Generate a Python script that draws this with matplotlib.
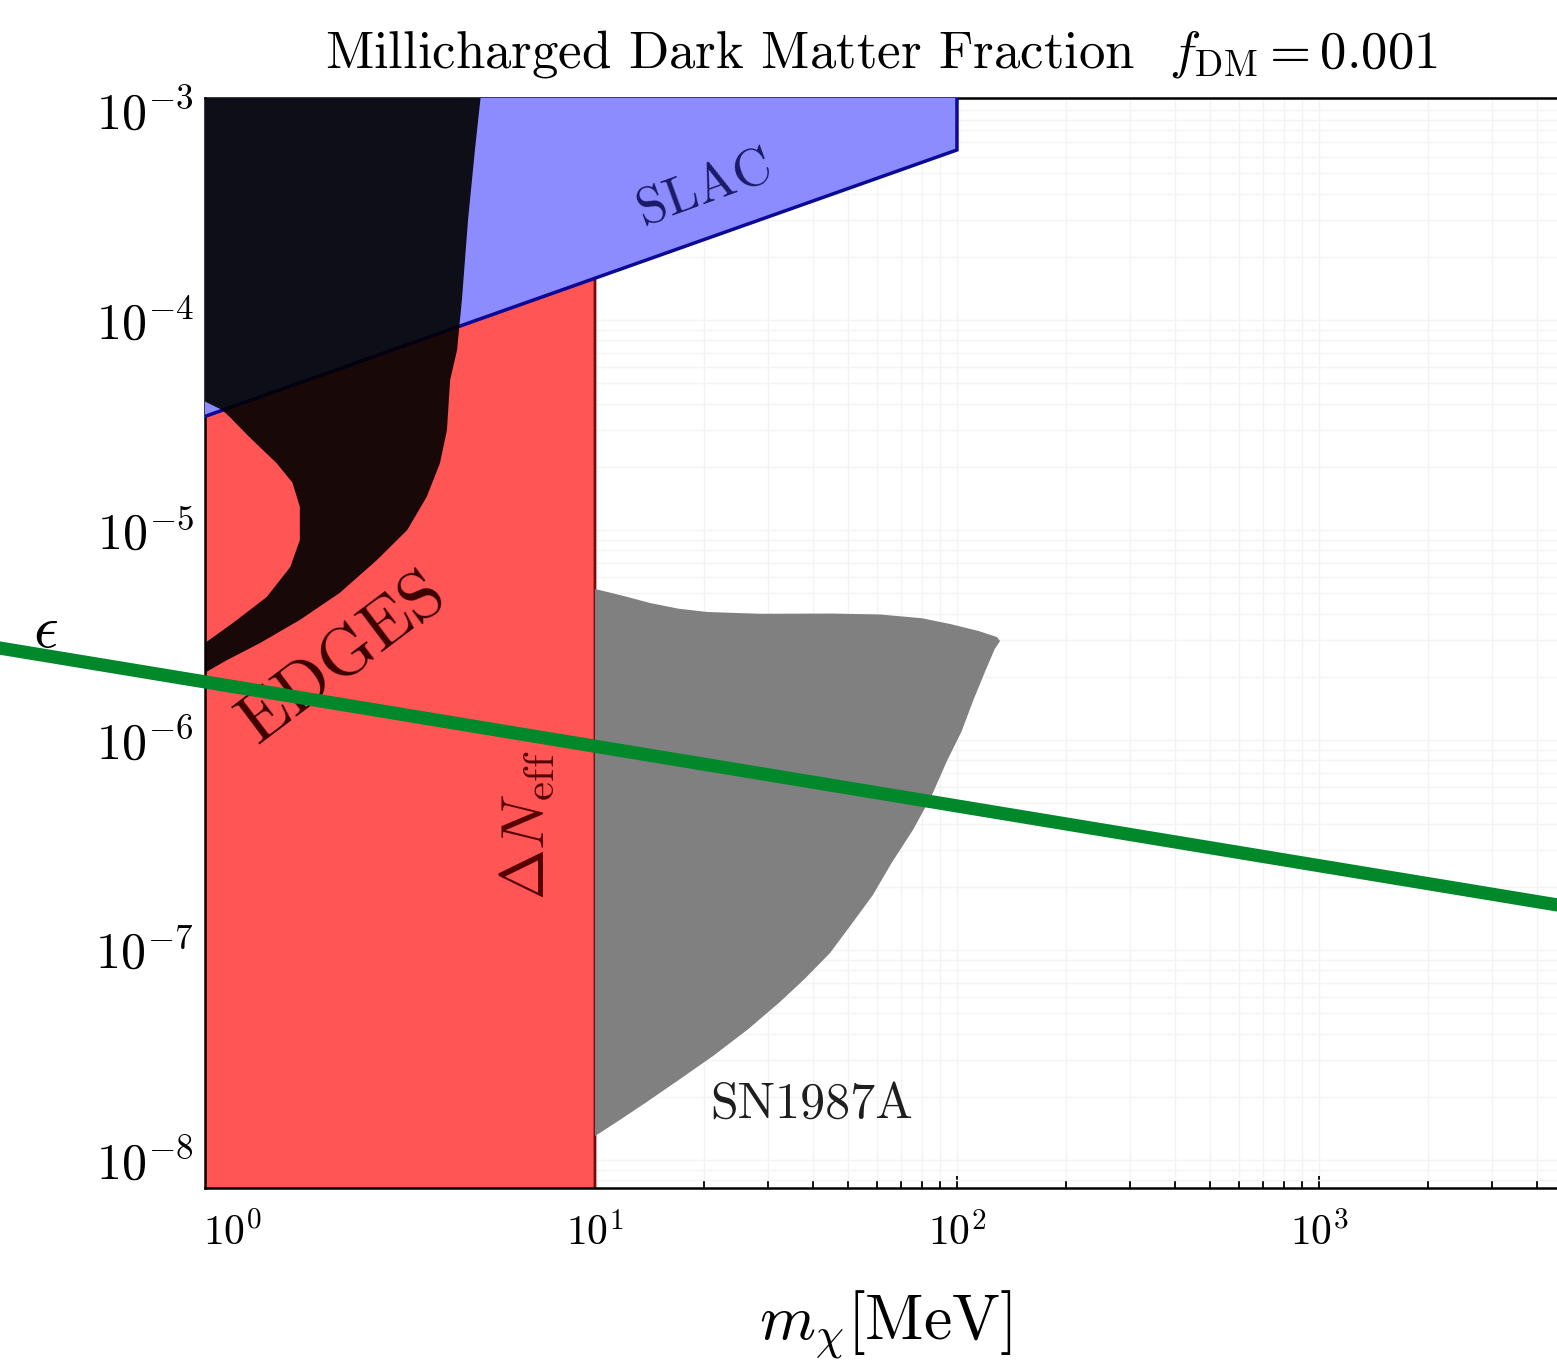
import numpy as np
import matplotlib
matplotlib.use("Agg")
import matplotlib.pyplot as plt
from matplotlib.ticker import FuncFormatter, LogLocator

plt.rcParams["font.family"] = "serif"
plt.rcParams["font.serif"] = ["cmr10", "DejaVu Serif"]
plt.rcParams["mathtext.fontset"] = "cm"

# mass [MeV] / epsilon boundaries of the excluded regions
slac_m = [0.80, 100, 100, 0.80]
slac_eps = [3.38e-5, 6.45e-4, 1.3e-3, 1.3e-3]

neff_m = [0.80, 10, 10, 0.80]
neff_eps = [7.0e-9, 7.0e-9, 1.58e-4, 3.38e-5]

edges_outer_m = [0.80, 4.87, 4.66, 4.46, 4.29, 4.16, 3.98, 3.90, 3.73, 3.43,
                 3.03, 2.50, 1.97, 1.53, 1.19, 0.962, 0.80]
edges_outer_eps = [1.3e-3, 1.3e-3, 6.45e-4, 2.99e-4, 1.25e-4, 7.20e-5, 5.18e-5,
                   2.99e-5, 2.08e-5, 1.44e-5, 1.0e-5, 7.20e-6, 5.01e-6, 3.73e-6,
                   2.90e-6, 2.40e-6, 2.00e-6]
edges_inner_m = [0.80, 1.0, 1.24, 1.44, 1.53, 1.53, 1.46, 1.32, 1.11, 0.98,
                 0.933, 0.80]
edges_inner_eps = [2.74e-6, 3.61e-6, 4.80e-6, 6.67e-6, 8.95e-6, 1.29e-5,
                   1.68e-5, 2.08e-5, 2.77e-5, 3.45e-5, 3.73e-5, 4.25e-5]

sn_m = [10, 12.0, 14.2, 17.0, 20.4, 28.6, 45.0, 61.3, 80.0, 95.6, 115, 129,
        131.5, 127, 120, 111, 103, 93.8, 85.0, 75.5, 66.0, 58.6, 51.0, 44.6,
        38.0, 32.4, 26.5, 21.2, 17.0, 13.9, 11.7, 10]
sn_eps = [5.24e-6, 4.85e-6, 4.49e-6, 4.22e-6, 4.07e-6, 3.99e-6, 4.0e-6,
          3.96e-6, 3.80e-6, 3.57e-6, 3.30e-6, 3.09e-6, 2.96e-6, 2.70e-6,
          2.15e-6, 1.55e-6, 1.10e-6, 7.94e-7, 5.40e-7, 3.72e-7, 2.60e-7,
          1.83e-7, 1.32e-7, 9.68e-8, 7.30e-8, 5.65e-8, 4.20e-8, 3.13e-8,
          2.40e-8, 1.89e-8, 1.55e-8, 1.30e-8]

line_m = [0.227, 4545]
line_eps = [2.74e-6, 1.64e-7]

fig = plt.figure(figsize=(15.57, 13.69), dpi=100)
ax = fig.add_axes([205 / 1557, 1 - 1188 / 1369, 1352 / 1557, 1090 / 1369])
ax.set_xscale("log")
ax.set_yscale("log")
ax.set_xlim(0.837, 4545)
ax.set_ylim(7.36e-9, 1.14e-3)

ax.set_axisbelow(True)
ax.grid(True, which="both", color="#f3f3f3", lw=1.0)

ax.fill(neff_m, neff_eps, facecolor="#ff5555", edgecolor="#7a0a0a", lw=2, zorder=2)
ax.fill(slac_m, slac_eps, facecolor="#8c8cff", edgecolor="#0a0a96", lw=2.5, zorder=3)
ax.fill(edges_outer_m + edges_inner_m, edges_outer_eps + edges_inner_eps,
        facecolor="black", edgecolor="none", alpha=0.9, zorder=4)
ax.fill(sn_m, sn_eps, facecolor="#808080", edgecolor="none", zorder=2)

ax.plot(line_m, line_eps, color="#00882b", lw=9.5, clip_on=False, zorder=10)

ax.text(20.1, 4.25e-4, "SLAC", rotation=20, fontsize=38, color="#1a1a66",
        ha="center", va="center", zorder=5)
ax.text(2.02, 2.45e-6, "EDGES", rotation=37, fontsize=50, color="#3a0000",
        ha="center", va="center", zorder=5)
ax.text(6.49, 3.94e-7, r"$\Delta N_{\rm eff}$", rotation=90, fontsize=44,
        color="#550000", ha="center", va="center", zorder=5)
ax.text(39.7, 1.83e-8, "SN1987A", fontsize=36, color="#1e1e1e",
        ha="center", va="center", zorder=5)

ax.set_title(r"Millicharged Dark Matter Fraction  $f_{\rm DM} = 0.001$",
             fontsize=38, pad=22)
ax.set_xlabel(r"$m_\chi$[MeV]", fontsize=46)
ax.xaxis.label.set_va("center")
ax.xaxis.set_label_coords(0.503, -0.126)
ax.set_ylabel(r"$\epsilon$", fontsize=44, rotation=0)
ax.yaxis.label.set_va("center")
ax.yaxis.set_label_coords(-0.118, 0.511)

fmt = FuncFormatter(lambda v, p: r"$10^{%d}$" % round(np.log10(v)))
ax.xaxis.set_major_formatter(fmt)
ax.yaxis.set_major_formatter(fmt)
ax.xaxis.set_major_locator(LogLocator(base=10, numticks=20))
ax.yaxis.set_major_locator(LogLocator(base=10, numticks=20))
ax.xaxis.set_minor_locator(LogLocator(base=10, subs=np.arange(2, 10), numticks=20))
ax.yaxis.set_minor_locator(LogLocator(base=10, subs=np.arange(2, 10), numticks=20))
ax.tick_params(which="both", direction="in", top=False, right=False, width=1.3)
ax.tick_params(which="major", length=9)
ax.tick_params(which="minor", length=5)
ax.tick_params(axis="x", labelsize=30, pad=18)
ax.tick_params(axis="y", labelsize=36, pad=8)
ax.yaxis.set_minor_formatter(plt.NullFormatter())
ax.xaxis.set_minor_formatter(plt.NullFormatter())

for s in ["left", "bottom", "top"]:
    ax.spines[s].set_linewidth(1.8)
ax.spines["right"].set_visible(False)

fig.savefig("out.png", dpi=100)
